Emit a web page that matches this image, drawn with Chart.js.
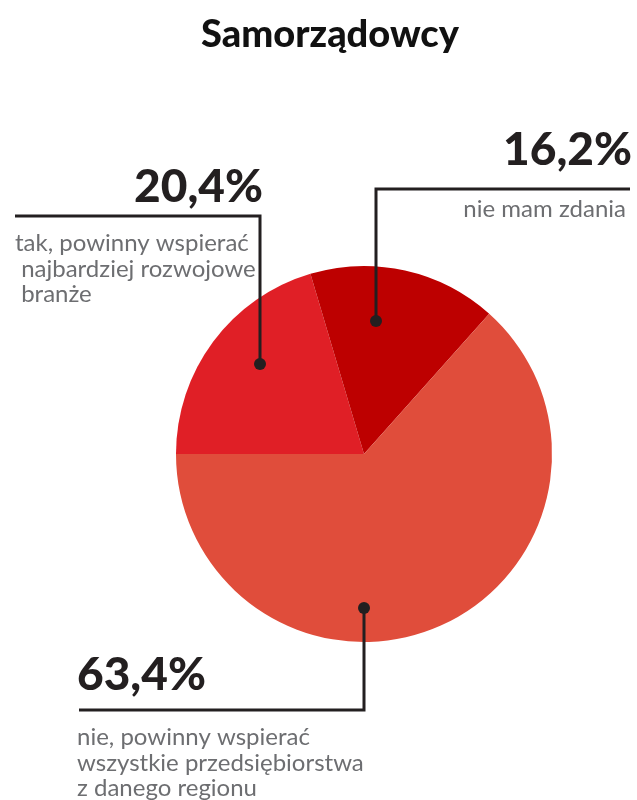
<!DOCTYPE html>
<html lang="pl">
<head>
<meta charset="utf-8">
<script src="https://cdn.jsdelivr.net/npm/chart.js@4"></script>
<style>
  body { margin: 0; background: #fff; }
  canvas { display: block; }
</style>
</head>
<body>
<canvas id="pieChart" width="637" height="800"></canvas>
<script>
// Odpowiedzi samorządowców
const categories = [
  ['tak, powinny wspierać', ' najbardziej rozwojowe', ' branże'],
  ['nie mam zdania'],
  ['nie, powinny wspierać', 'wszystkie przedsiębiorstwa', 'z danego regionu']
];
const values = [20.4, 16.2, 63.4]; // %
const colors = ['#e01f26', '#bd0000', '#e04d3b'];

// Leader lines: dot offset from pie centre, elbow line and text placement
const callouts = [
  { dot: [-104, -90], lineY: 216, lineTo: 15, pctX: 263, pctY: 202, pctAlign: 'right', textX: 15, textY: 251, textAlign: 'left' },
  { dot: [12, -133], lineY: 189, lineTo: 630, pctX: 632, pctY: 165, pctAlign: 'right', textX: 626, textY: 217, textAlign: 'right' },
  { dot: [0, 154], lineY: 710, lineTo: 79, pctX: 77, pctY: 690, pctAlign: 'left', textX: 77, textY: 745, textAlign: 'left' }
];

const fmt = v => v.toFixed(1).replace('.', ',') + '%';

const calloutPlugin = {
  id: 'callouts',
  afterDraw(chart) {
    const ctx = chart.ctx;
    const arc = chart.getDatasetMeta(0).data[0];
    const cx = arc.x, cy = arc.y;
    ctx.save();

    // title
    ctx.fillStyle = '#111';
    ctx.font = '900 38px Lato';
    ctx.textAlign = 'center';
    ctx.textBaseline = 'alphabetic';
    ctx.fillText('Samorządowcy', 330, 47);

    callouts.forEach((c, i) => {
      const dx = cx + c.dot[0], dy = cy + c.dot[1];
      ctx.strokeStyle = '#231f20';
      ctx.lineWidth = 3;
      ctx.beginPath();
      ctx.moveTo(dx, dy);
      ctx.lineTo(dx, c.lineY);
      ctx.lineTo(c.lineTo, c.lineY);
      ctx.stroke();
      ctx.fillStyle = '#231f20';
      ctx.beginPath();
      ctx.arc(dx, dy, 6, 0, Math.PI * 2);
      ctx.fill();

      ctx.font = '900 46px Lato';
      ctx.textAlign = c.pctAlign;
      ctx.fillText(fmt(values[i]), c.pctX, c.pctY);

      ctx.fillStyle = '#6d6e71';
      ctx.font = '24px Lato';
      ctx.textAlign = c.textAlign;
      categories[i].forEach((line, j) => {
        ctx.fillText(line, c.textX, c.textY + j * 25.5);
      });
    });
    ctx.restore();
  }
};

new Chart(document.getElementById('pieChart'), {
  type: 'pie',
  data: {
    labels: categories.map(l => l.join(' ').replace(/\s+/g, ' ').trim()),
    datasets: [{
      data: values,
      backgroundColor: colors,
      borderWidth: 0
    }]
  },
  options: {
    responsive: false,
    animation: false,
    rotation: 270,
    layout: { padding: { left: 176, right: 85, top: 266, bottom: 158 } },
    plugins: {
      legend: { display: false },
      tooltip: { enabled: false }
    }
  },
  plugins: [calloutPlugin]
});
</script>
</body>
</html>
